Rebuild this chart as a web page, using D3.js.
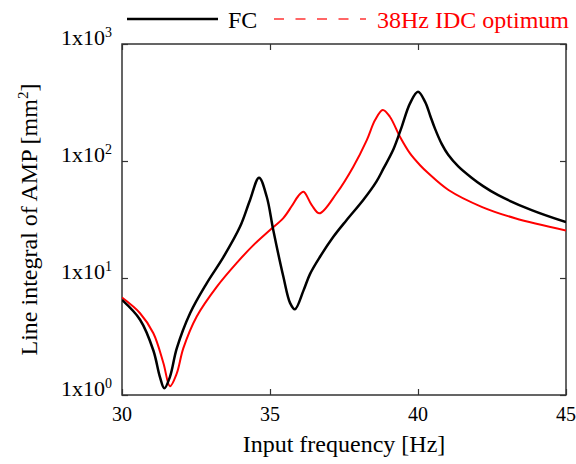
<html>
<head>
  <style>
    body { margin: 0; background: #fff; }
    svg text { font-family: "Liberation Serif", "Times New Roman", serif; }
    svg .frame { fill: none; stroke: #333; stroke-width: 1.5px; }
    svg .tick line { stroke: #333; stroke-width: 1.2px; }
  </style>
</head>
<body>
  <div id="chart"></div>
  <script src="https://cdn.jsdelivr.net/npm/d3@7"></script>
  <script>
  // data
  var fcFreq = [30.0, 30.61, 31.06, 31.28, 31.43, 31.62, 31.85, 32.3, 32.86, 33.42, 33.99, 34.32, 34.63, 34.89,
                35.11, 35.45, 35.68, 35.84, 36.13, 36.35, 36.69, 37.14, 37.59, 38.15, 38.6, 38.83, 39.17, 39.45,
                39.73, 40.0, 40.24, 40.41, 40.57, 40.8, 41.02, 41.36, 41.81, 42.2, 42.71, 43.84, 45.0];
  var fcAmp  = [6.5, 4.4, 2.4, 1.43, 1.14, 1.43, 2.5, 5.0, 9.0, 15, 27.5, 46, 72, 49.5,
                25.7, 10.3, 6.1, 5.4, 7.8, 10.8, 15.2, 22.5, 31.3, 46.4, 67, 86, 126, 196,
                311, 390, 320, 245, 190, 140, 113, 90, 72, 61, 51, 38, 30];

  var idcFreq = [30.0, 30.61, 31.06, 31.4, 31.62, 31.85, 32.07, 32.52, 33.2, 33.87, 34.44, 35.0, 35.45, 35.73,
                 35.95, 36.13, 36.41, 36.67, 37.25, 37.81, 38.27, 38.55, 38.81, 39.05, 39.39, 39.73, 40.07,
                 40.35, 41.03, 42.15, 43.28, 45.0];
  var idcAmp  = [6.8, 5.0, 3.37, 1.87, 1.19, 1.53, 2.5, 4.67, 8.4, 13.4, 19.1, 25.7, 32.5, 41,
                 50, 54.7, 42, 35.7, 53, 89, 151, 224, 273, 239, 161, 116, 92,
                 78.5, 56.5, 40.6, 32.4, 25.5];

  var xTicks = [30, 35, 40, 45];
  var yTicks = [1, 10, 100, 1000];
  var seriesNames = ["FC", "38Hz IDC optimum"];
  var seriesColors = ["#000000", "#ff0000"];

  var W = 576, H = 464;
  var plot = { left: 122, top: 44, right: 566, bottom: 395 };

  var svg = d3.select("#chart")
    .append("svg")
      .attr("width", W)
      .attr("height", H);

  var x = d3.scaleLinear().domain([30, 45]).range([plot.left, plot.right]);
  var y = d3.scaleLog().domain([1, 1000]).range([plot.bottom, plot.top]);

  // inward ticks on all four sides
  var tickLen = 6;
  function noDomain(g) { g.select(".domain").remove(); }
  svg.append("g")
      .attr("transform", "translate(0," + plot.bottom + ")")
      .call(d3.axisBottom(x).tickValues(xTicks).tickSize(-tickLen).tickSizeOuter(0).tickFormat(""))
      .call(noDomain);
  svg.append("g")
      .attr("transform", "translate(0," + plot.top + ")")
      .call(d3.axisTop(x).tickValues(xTicks).tickSize(-tickLen).tickSizeOuter(0).tickFormat(""))
      .call(noDomain);
  svg.append("g")
      .attr("transform", "translate(" + plot.left + ",0)")
      .call(d3.axisLeft(y).tickValues(yTicks).tickSize(-tickLen).tickSizeOuter(0).tickFormat(""))
      .call(noDomain);
  svg.append("g")
      .attr("transform", "translate(" + plot.right + ",0)")
      .call(d3.axisRight(y).tickValues(yTicks).tickSize(-tickLen).tickSizeOuter(0).tickFormat(""))
      .call(noDomain);

  // frame
  svg.append("rect")
      .classed("frame", true)
      .attr("x", plot.left)
      .attr("y", plot.top)
      .attr("width", plot.right - plot.left)
      .attr("height", plot.bottom - plot.top);

  // x tick labels
  svg.selectAll("text.xlab")
    .data(xTicks)
    .enter().append("text")
      .attr("class", "xlab")
      .attr("x", function (d) { return x(d); })
      .attr("y", plot.bottom + 26)
      .attr("text-anchor", "middle")
      .style("font-size", "20px")
      .text(function (d) { return d; });

  // y tick labels 1x10^n
  var ylab = svg.selectAll("text.ylab")
    .data(yTicks)
    .enter().append("text")
      .attr("class", "ylab")
      .attr("x", plot.left - 10)
      .attr("y", function (d) { return y(d) + 1; })
      .attr("text-anchor", "end")
      .style("font-size", "22px");
  ylab.append("tspan").text("1x10");
  ylab.append("tspan")
      .attr("dy", "-8")
      .style("font-size", "14px")
      .text(function (d) { return Math.round(Math.log10(d)); });

  // axis titles
  svg.append("text")
      .attr("x", (plot.left + plot.right) / 2)
      .attr("y", 452)
      .attr("text-anchor", "middle")
      .style("font-size", "24px")
      .text("Input frequency [Hz]");

  var yt = svg.append("text")
      .attr("transform", "translate(37," + (plot.top + plot.bottom) / 2 + ") rotate(-90)")
      .attr("text-anchor", "middle")
      .style("font-size", "24px");
  yt.append("tspan").text("Line integral of AMP [mm");
  yt.append("tspan").attr("dy", "-9").style("font-size", "15px").text("2");
  yt.append("tspan").attr("dy", "9").text("]");

  // curves
  var line = d3.line()
    .x(function (d) { return x(d[0]); })
    .y(function (d) { return y(d[1]); })
    .curve(d3.curveCatmullRom.alpha(0.5));

  svg.append("clipPath").attr("id", "clip")
    .append("rect")
      .attr("x", plot.left).attr("y", plot.top)
      .attr("width", plot.right - plot.left).attr("height", plot.bottom - plot.top);

  svg.append("path")
      .attr("clip-path", "url(#clip)")
      .attr("d", line(d3.zip(idcFreq, idcAmp)))
      .style("fill", "none")
      .style("stroke", seriesColors[1])
      .style("stroke-width", "2px");

  svg.append("path")
      .attr("clip-path", "url(#clip)")
      .attr("d", line(d3.zip(fcFreq, fcAmp)))
      .style("fill", "none")
      .style("stroke", seriesColors[0])
      .style("stroke-width", "2.5px");

  // legend
  svg.append("line")
      .attr("x1", 127).attr("x2", 218)
      .attr("y1", 19).attr("y2", 19)
      .style("stroke", seriesColors[0])
      .style("stroke-width", "2.5px");
  svg.append("text")
      .attr("x", 228).attr("y", 28)
      .style("font-size", "24px")
      .style("fill", seriesColors[0])
      .text(seriesNames[0]);

  svg.append("line")
      .attr("x1", 274).attr("x2", 366)
      .attr("y1", 19).attr("y2", 19)
      .style("stroke", seriesColors[1])
      .style("stroke-opacity", 0.6)
      .style("stroke-width", "2px")
      .style("stroke-dasharray", "10,11.5");
  svg.append("text")
      .attr("x", 377).attr("y", 28)
      .style("font-size", "24px")
      .style("fill", seriesColors[1])
      .text(seriesNames[1]);
  </script>
</body>
</html>
